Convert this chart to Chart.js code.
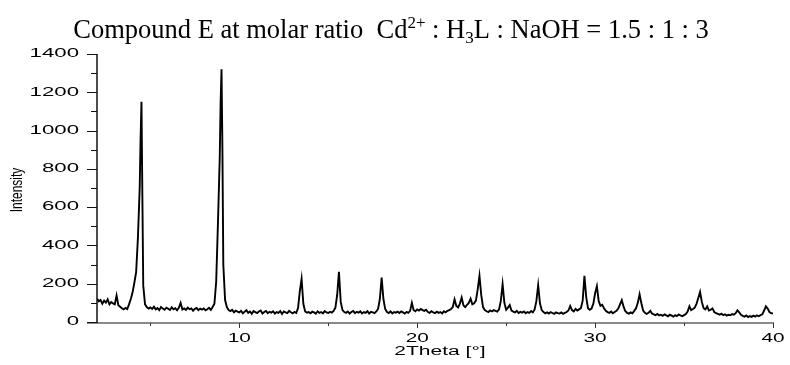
<!DOCTYPE html>
<html>
<head>
<meta charset="utf-8">
<script src="https://cdn.jsdelivr.net/npm/chart.js@4.4.1/dist/chart.umd.min.js"></script>
<style>
  body { margin: 0; background: #fff; }
  #chart { display: block; }
</style>
</head>
<body>
<canvas id="chart" width="790" height="365"></canvas>
<script>
// powder pattern, 2theta in degrees (rows = one degree each)
const twoTheta = [
  2.0, 2.1, 2.2, 2.3, 2.4, 2.5, 2.6, 2.7, 2.8, 2.9,
  3.0, 3.1, 3.2, 3.3, 3.4, 3.5, 3.6, 3.7, 3.8, 3.9,
  4.0, 4.1, 4.2, 4.3, 4.4, 4.45, 4.5, 4.55, 4.6, 4.7, 4.8, 4.9,
  5.0, 5.1, 5.2, 5.3, 5.4, 5.5, 5.6, 5.7, 5.8, 5.9,
  6.0, 6.1, 6.2, 6.3, 6.4, 6.5, 6.6, 6.7, 6.8, 6.9,
  7.0, 7.1, 7.2, 7.3, 7.4, 7.5, 7.6, 7.7, 7.8, 7.9,
  8.0, 8.1, 8.2, 8.3, 8.4, 8.5, 8.6, 8.7, 8.8, 8.9, 8.95,
  9.0, 9.05, 9.1, 9.2, 9.3, 9.4, 9.5, 9.6, 9.7, 9.8, 9.9,
  10.0, 10.1, 10.2, 10.3, 10.4, 10.5, 10.6, 10.7, 10.8, 10.9,
  11.0, 11.1, 11.2, 11.3, 11.4, 11.5, 11.6, 11.7, 11.8, 11.9,
  12.0, 12.1, 12.2, 12.3, 12.4, 12.5, 12.6, 12.7, 12.8, 12.9,
  13.0, 13.1, 13.2, 13.3, 13.4, 13.5, 13.6, 13.7, 13.8, 13.9,
  14.0, 14.1, 14.2, 14.3, 14.4, 14.5, 14.6, 14.7, 14.8, 14.9,
  15.0, 15.1, 15.2, 15.3, 15.4, 15.5, 15.6, 15.7, 15.8, 15.9,
  16.0, 16.1, 16.2, 16.3, 16.4, 16.5, 16.6, 16.7, 16.8, 16.9,
  17.0, 17.1, 17.2, 17.3, 17.4, 17.5, 17.6, 17.7, 17.8, 17.9,
  18.0, 18.1, 18.2, 18.3, 18.4, 18.5, 18.6, 18.7, 18.8, 18.9,
  19.0, 19.1, 19.2, 19.3, 19.4, 19.5, 19.6, 19.7, 19.8, 19.9,
  20.0, 20.1, 20.2, 20.3, 20.4, 20.5, 20.6, 20.7, 20.8, 20.9,
  21.0, 21.1, 21.2, 21.3, 21.4, 21.5, 21.6, 21.7, 21.8, 21.9,
  22.0, 22.1, 22.2, 22.3, 22.4, 22.5, 22.6, 22.7, 22.8, 22.9,
  23.0, 23.1, 23.2, 23.3, 23.4, 23.5, 23.6, 23.7, 23.8, 23.9,
  24.0, 24.1, 24.2, 24.3, 24.4, 24.5, 24.6, 24.7, 24.8, 24.9,
  25.0, 25.1, 25.2, 25.3, 25.4, 25.5, 25.6, 25.7, 25.8, 25.9,
  26.0, 26.1, 26.2, 26.3, 26.4, 26.5, 26.6, 26.7, 26.8, 26.9,
  27.0, 27.1, 27.2, 27.3, 27.4, 27.5, 27.6, 27.7, 27.8, 27.9,
  28.0, 28.1, 28.2, 28.3, 28.4, 28.5, 28.6, 28.7, 28.8, 28.9,
  29.0, 29.1, 29.2, 29.3, 29.4, 29.5, 29.6, 29.7, 29.8, 29.9,
  30.0, 30.1, 30.2, 30.3, 30.4, 30.5, 30.6, 30.7, 30.8, 30.9,
  31.0, 31.1, 31.2, 31.3, 31.4, 31.5, 31.6, 31.7, 31.8, 31.9,
  32.0, 32.1, 32.2, 32.3, 32.4, 32.5, 32.6, 32.7, 32.8, 32.9,
  33.0, 33.1, 33.2, 33.3, 33.4, 33.5, 33.6, 33.7, 33.8, 33.9,
  34.0, 34.1, 34.2, 34.3, 34.4, 34.5, 34.6, 34.7, 34.8, 34.9,
  35.0, 35.1, 35.2, 35.3, 35.4, 35.5, 35.6, 35.7, 35.8, 35.9,
  36.0, 36.1, 36.2, 36.3, 36.4, 36.5, 36.6, 36.7, 36.8, 36.9,
  37.0, 37.1, 37.2, 37.3, 37.4, 37.5, 37.6, 37.7, 37.8, 37.9,
  38.0, 38.1, 38.2, 38.3, 38.4, 38.5, 38.6, 38.7, 38.8, 38.9,
  39.0, 39.1, 39.2, 39.3, 39.4, 39.5, 39.6, 39.7, 39.8, 39.9,
  40.0
];

const intensity = [
  122, 108, 115, 96, 112, 101, 118, 92, 104, 97,
  92, 138, 88, 80, 72, 66, 74, 68, 92, 120,
  155, 205, 260, 440, 700, 960, 1150, 660, 190, 92, 78, 70,
  76, 68, 80, 66, 73, 62, 78, 70, 64, 75,
  69, 63, 77, 66, 72, 61, 74, 100, 65, 71,
  63, 75, 67, 71, 59, 69, 73, 62, 70, 65,
  71, 61, 67, 74, 63, 78, 95, 210, 520, 860, 1150,
  1320, 900, 300, 115, 78, 62, 57, 64, 51, 59, 54,
  50, 58, 45, 54, 62, 48, 55, 43, 57, 52,
  47, 55, 60, 44, 52, 58, 46, 53, 49, 56,
  44, 52, 48, 57, 42, 55, 50, 46, 58, 51,
  45, 53, 48, 72, 160, 225, 95, 55, 49, 52,
  46, 54, 50, 43, 56, 48, 52, 45, 57, 50,
  47, 53, 49, 58, 75, 140, 262, 105, 62, 52,
  48, 55, 44, 52, 58, 46, 53, 49, 56, 45,
  52, 48, 57, 44, 53, 50, 46, 55, 68, 120,
  232, 120, 68, 52, 47, 56, 45, 52, 49, 54,
  47, 55, 50, 44, 53, 48, 58, 100, 62, 56,
  66, 60, 68, 62, 58, 64, 52, 48, 56, 50,
  46, 54, 48, 52, 45, 56, 50, 58, 62, 68,
  78, 118, 84, 76, 96, 128, 86, 78, 90, 100,
  122, 92, 98, 112, 170, 241, 140, 78, 62, 56,
  52, 60, 55, 62, 58, 54, 66, 110, 197, 100,
  64, 75, 88, 60, 54, 50, 58, 47, 53, 49,
  55, 46, 52, 48, 57, 50, 66, 110, 192, 98,
  62, 52, 45, 50, 44, 52, 47, 42, 50, 46,
  44, 50, 43, 48, 52, 60, 84, 62, 55, 68,
  60, 66, 72, 110, 241, 130, 72, 64, 70, 95,
  150, 187, 110, 84, 90, 72, 58, 52, 48, 55,
  46, 52, 58, 70, 92, 114, 80, 56, 48, 44,
  50, 45, 58, 72, 100, 145, 98, 60, 48, 42,
  48, 58, 44, 40, 36, 42, 34, 38, 32, 40,
  35, 30, 38, 33, 28, 36, 31, 40, 34, 30,
  36, 42, 55, 82, 62, 68, 75, 95, 125, 157,
  105, 72, 66, 82, 60, 64, 71, 52, 46, 42,
  38, 44, 36, 40, 33, 38, 35, 41, 38, 46,
  61, 50, 38, 32, 28, 34, 26, 31, 27, 33,
  28, 35, 30, 36, 40, 60, 82, 70, 52, 46,
  44
];

const xMajorTicks = [10, 20, 30, 40];
const xMinorTicks = [5, 15, 25, 35];
const yMajorTicks = [0, 200, 400, 600, 800, 1000, 1200, 1400];
const yMinorTicks = [100, 300, 500, 700, 900, 1100, 1300];

const xTitle = '2Theta [°]';
const yTitle = 'Intensity';
const titleParts = [
  { text: 'Compound E at molar ratio  Cd' },
  { text: '2+', sup: true },
  { text: ' : H' },
  { text: '3', sub: true },
  { text: 'L : NaOH = 1.5 : 1 : 3' }
];

// axis text in the original export is stretched sideways
function stretchedText(ctx, str, x, y, sx, align) {
  ctx.save();
  ctx.translate(x, y);
  ctx.scale(sx, 1);
  ctx.textAlign = align;
  ctx.fillText(str, 0, 0);
  ctx.restore();
}

const framePlugin = {
  id: 'frame',
  afterDraw(chart) {
    const ctx = chart.ctx;
    const a = chart.chartArea;
    const xs = chart.scales.x;
    const ys = chart.scales.y;
    ctx.save();

    // title with super/subscripts
    const big = '26.5px "Liberation Serif"';
    const small = '17px "Liberation Serif"';
    let total = 0;
    titleParts.forEach(p => {
      ctx.font = (p.sup || p.sub) ? small : big;
      p.w = ctx.measureText(p.text).width;
      total += p.w;
    });
    let tx = 391 - total / 2;
    ctx.fillStyle = '#000';
    ctx.textBaseline = 'alphabetic';
    ctx.textAlign = 'left';
    titleParts.forEach(p => {
      ctx.font = (p.sup || p.sub) ? small : big;
      let ty = 38;
      if (p.sup) ty -= 10;
      if (p.sub) ty += 5;
      ctx.fillText(p.text, tx, ty);
      tx += p.w;
    });

    // x axis line (grey)
    ctx.strokeStyle = '#8a8a8a';
    ctx.lineWidth = 2;
    ctx.beginPath();
    ctx.moveTo(a.left - 10, a.bottom + 1);
    ctx.lineTo(a.right + 1, a.bottom + 1);
    ctx.stroke();

    // y axis line
    ctx.strokeStyle = '#111';
    ctx.lineWidth = 1.5;
    ctx.beginPath();
    ctx.moveTo(a.left, a.top);
    ctx.lineTo(a.left, a.bottom + 1);
    ctx.stroke();

    // y ticks
    ctx.lineWidth = 1;
    yMajorTicks.forEach(v => {
      const py = Math.round(ys.getPixelForValue(v)) + 0.5;
      ctx.beginPath();
      ctx.moveTo(a.left - 10, py);
      ctx.lineTo(a.left, py);
      ctx.stroke();
    });
    yMinorTicks.forEach(v => {
      const py = Math.round(ys.getPixelForValue(v)) + 0.5;
      ctx.beginPath();
      ctx.moveTo(a.left - 6, py);
      ctx.lineTo(a.left, py);
      ctx.stroke();
    });

    // x ticks
    ctx.strokeStyle = '#333';
    xMajorTicks.forEach(v => {
      const px = Math.round(xs.getPixelForValue(v)) + 0.5;
      ctx.beginPath();
      ctx.moveTo(px, a.bottom + 1);
      ctx.lineTo(px, a.bottom + 6);
      ctx.stroke();
    });
    xMinorTicks.forEach(v => {
      const px = Math.round(xs.getPixelForValue(v)) + 0.5;
      ctx.beginPath();
      ctx.moveTo(px, a.bottom + 1);
      ctx.lineTo(px, a.bottom + 4);
      ctx.stroke();
    });

    // tick labels
    ctx.fillStyle = '#000';
    ctx.textBaseline = 'middle';
    ctx.font = '12px "Liberation Sans"';
    yMajorTicks.forEach(v => {
      stretchedText(ctx, String(v), 79, ys.getPixelForValue(v), 1.85, 'right');
    });
    ctx.font = '13px "Liberation Sans"';
    xMajorTicks.forEach(v => {
      stretchedText(ctx, String(v), xs.getPixelForValue(v), a.bottom + 16, 1.6, 'center');
    });

    // axis titles
    ctx.font = '12px "Liberation Sans"';
    stretchedText(ctx, xTitle, 440, a.bottom + 30, 1.75, 'center');

    ctx.save();
    ctx.translate(18, 190);
    ctx.rotate(-Math.PI / 2);
    ctx.scale(1, 1.3);
    ctx.textAlign = 'center';
    ctx.fillText(yTitle, 0, 0);
    ctx.restore();

    ctx.restore();
  }
};

const points = twoTheta.map((t, i) => ({ x: t, y: intensity[i] }));

new Chart(document.getElementById('chart'), {
  type: 'line',
  data: {
    datasets: [{
      data: points,
      borderColor: '#000',
      borderWidth: 1.9,
      pointRadius: 0,
      tension: 0,
      fill: false
    }]
  },
  options: {
    responsive: false,
    animation: false,
    devicePixelRatio: 1,
    layout: { padding: { left: 97, right: 17, top: 54, bottom: 43 } },
    plugins: { legend: { display: false }, tooltip: { enabled: false } },
    scales: {
      x: { type: 'linear', min: 2, max: 40, display: false },
      y: { min: 0, max: 1400, display: false }
    }
  },
  plugins: [framePlugin]
});
</script>
</body>
</html>
